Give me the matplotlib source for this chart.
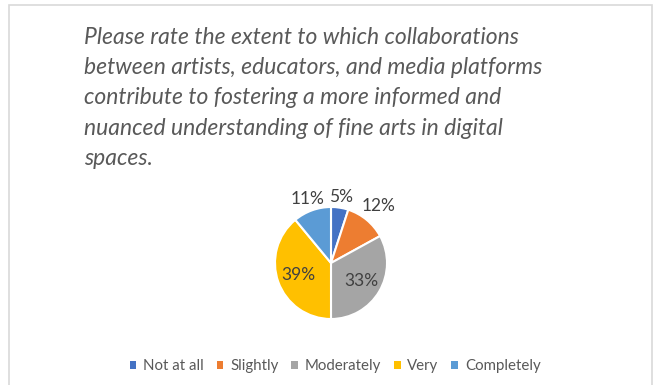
import numpy as np
import matplotlib.pyplot as plt
from matplotlib.patches import Patch, Rectangle

W, H = 658, 385

title = ("Please rate the extent to which collaborations\n"
         "between artists, educators, and media platforms\n"
         "contribute to fostering a more informed and\n"
         "nuanced understanding of fine arts in digital\n"
         "spaces.")
categories = ["Not at all", "Slightly", "Moderately", "Very", "Completely"]
percents = [5, 12, 33, 39, 11]
colors = ["#4472C4", "#ED7D31", "#A5A5A5", "#FFC000", "#5B9BD5"]
# small slices get their label outside the pie
label_dist = [1.2, 1.32, 0.62, 0.62, 1.22]

text_color = "#595959"

fig = plt.figure(figsize=(W / 100, H / 100), dpi=100)

# chart area frame
fig.patches.append(Rectangle((9 / W, -0.05), 643 / W, (H - 5) / H + 0.05,
                             transform=fig.transFigure, fill=False,
                             edgecolor="#D9D9D9", linewidth=1.2))

fig.text(84 / W, 1 - 27 / H, title, ha="left", va="top", fontsize=16.5,
         family="Lato", style="italic", color=text_color, linespacing=1.54)

cx, cy, r = 331, 263, 56
ax = fig.add_axes([(cx - r) / W, (H - cy - r) / H, 2 * r / W, 2 * r / H])
wedges, _ = ax.pie(percents, colors=colors, startangle=90, counterclock=False,
                   radius=1, wedgeprops=dict(edgecolor="white", linewidth=1.5))
ax.set_xlim(-1, 1)
ax.set_ylim(-1, 1)
ax.set_aspect("equal")
ax.axis("off")

for w, p, d in zip(wedges, percents, label_dist):
    ang = np.deg2rad((w.theta1 + w.theta2) / 2)
    ax.text(d * np.cos(ang), d * np.sin(ang), f"{p}%", ha="center", va="center",
            fontsize=12.5, family="Lato", color="#404040", clip_on=False)

handles = [Patch(facecolor=c, edgecolor="none") for c in colors]
fig.legend(handles, categories, loc="center", bbox_to_anchor=(335 / W, 1 - 366 / H),
           ncol=5, frameon=False, handlelength=0.45, handleheight=0.45,
           handletextpad=0.45, columnspacing=0.85, labelcolor=text_color,
           prop=dict(family="Lato", size=10.8))

fig.savefig("out.png", dpi=100)
